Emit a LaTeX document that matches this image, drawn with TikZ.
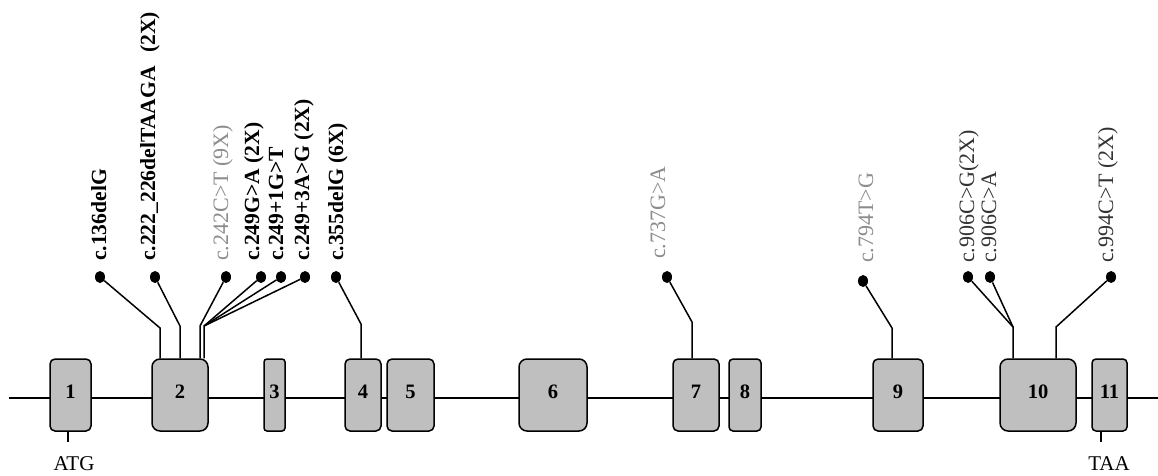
\documentclass[tikz,border=0pt]{standalone}
\usepackage{fontspec}
\setmainfont{Liberation Serif}
\usetikzlibrary{shapes.geometric}
\definecolor{exonfill}{gray}{0.75}
\definecolor{softgray}{gray}{0.55}
\definecolor{darktext}{gray}{0.2}
\begin{document}
\begin{tikzpicture}[x=1pt,y=-1pt,
  backbone/.style={line width=2pt},
  exon/.style={draw=black, line width=1.5pt, fill=exonfill, rounded corners=5pt,
    inner sep=0pt, minimum height=72pt, text depth=7pt,
    font=\fontsize{20.5}{20}\selectfont\bfseries},
  dotmark/.style={ellipse, fill=black, inner sep=0pt, minimum width=10pt, minimum height=12pt},
  stem/.style={line width=1.5pt},
  tick/.style={line width=1.4pt},
  mutlabel/.style={rotate=90, anchor=west, inner sep=0pt, text height=14pt, text depth=0pt},
  mutbold/.style={mutlabel, font=\fontsize{21.6}{22}\selectfont\bfseries},
  mutsoft/.style={mutlabel, text=softgray, font=\fontsize{22}{22}\selectfont},
  mutdark/.style={mutlabel, text=darktext, font=\fontsize{22}{22}\selectfont},
  sitelabel/.style={inner sep=0pt, font=\fontsize{21}{21}\selectfont}
]
\useasboundingbox (0,0) rectangle (1158,476);

% gene backbone
\coordinate (gstart) at (9,398);
\coordinate (gend) at (1158,398);
\draw[backbone] (gstart) -- (gend);

% exons
\node[exon, minimum width=41pt] (e1) at (70.5,395) {1};
\node[exon, minimum width=56pt, rounded corners=8pt] (e2) at (180,395) {2};
\node[exon, minimum width=21pt, rounded corners=3pt] (e3) at (274.5,395) {3};
\node[exon, minimum width=36pt] (e4) at (363,395) {4};
\node[exon, minimum width=47pt] (e5) at (410.5,395) {5};
\node[exon, minimum width=68pt, rounded corners=8pt] (e6) at (553,395) {6};
\node[exon, minimum width=46pt] (e7) at (696,395) {7};
\node[exon, minimum width=32pt, rounded corners=4pt] (e8) at (745,395) {8};
\node[exon, minimum width=50pt] (e9) at (898,395) {9};
\node[exon, minimum width=76pt, rounded corners=8pt] (e10) at (1038,395) {10};
\node[exon, minimum width=35pt, rounded corners=4pt] (e11) at (1109.5,395) {11};

% start and stop codons
\coordinate (atgtick) at (68,442);
\coordinate (taatick) at (1101,442);
\draw[tick] (e1.south -| atgtick) -- (atgtick);
\draw[tick] (e11.south -| taatick) -- (taatick);
\node[sitelabel] (atg) at (74,464) {ATG};
\node[sitelabel] (taa) at (1109,464) {TAA};

% mutation markers
\node[dotmark] (d136) at (100,277) {};
\node[dotmark] (d222) at (155,277) {};
\node[dotmark] (d242) at (226,277) {};
\node[dotmark] (d249a) at (261,277) {};
\node[dotmark] (d249b) at (281,277) {};
\node[dotmark] (d249c) at (305,277) {};
\node[dotmark] (d355) at (336,277) {};
\node[dotmark] (d737) at (667,277) {};
\node[dotmark] (d794) at (863,281) {};
\node[dotmark] (d906a) at (968,277) {};
\node[dotmark] (d906b) at (990,277) {};
\node[dotmark] (d994) at (1111,277) {};

% stem bends
\coordinate (j136) at (160,328);
\coordinate (j222) at (180,326);
\coordinate (j242) at (200,326);
\coordinate (j249) at (204,326);
\coordinate (j355) at (361,324);
\coordinate (j737) at (692,322);
\coordinate (j794) at (892,328);
\coordinate (j906) at (1013,327);
\coordinate (j994) at (1056,327);

% stems
\draw[stem] (d136) -- (j136) -- (j136 |- e2.north);
\draw[stem] (d222) -- (j222) -- (j222 |- e2.north);
\draw[stem] (d242) -- (j242) -- (j242 |- e2.north);
\draw[stem] (d249a) -- (j249) -- (j249 |- e2.north);
\draw[stem] (d249b) -- (j249);
\draw[stem] (d249c) -- (j249);
\draw[stem] (d355) -- (j355) -- (j355 |- e4.north);
\draw[stem] (d737) -- (j737) -- (j737 |- e7.north);
\draw[stem] (d794) -- (j794) -- (j794 |- e9.north);
\draw[stem] (d906a) -- (j906) -- (j906 |- e10.north);
\draw[stem] (d906b) -- (j906);
\draw[stem] (d994) -- (j994) -- (j994 |- e10.north);

% mutation labels
\node[mutbold] (l136) at (99,261) {c.136delG};
\node[mutbold] (l222) at (148,261) {c.222\_226delTAAGA\hspace{8pt} (2X)};
\node[mutsoft] (l242) at (221,261) {c.242C>T (9X)};
\node[mutbold] (l249a) at (252,261) {c.249G>A (2X)};
\node[mutbold] (l249b) at (276,261) {c.249+1G>T};
\node[mutbold] (l249c) at (302,261) {c.249+3A>G (2X)};
\node[mutbold] (l355) at (336,261) {c.355delG (6X)};
\node[mutsoft] (l737) at (658,259) {c.737G>A};
\node[mutsoft] (l794) at (866,263) {c.794T>G};
\node[mutdark] (l906a) at (967,263) {c.906C>G(2X)};
\node[mutdark] (l906b) at (989,263) {c.906C>A};
\node[mutdark] (l994) at (1106,263) {c.994C>T (2X)};
\end{tikzpicture}
\end{document}
